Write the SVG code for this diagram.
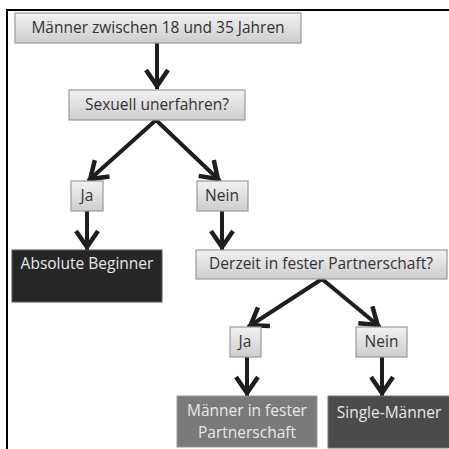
<svg xmlns="http://www.w3.org/2000/svg" width="449" height="449" viewBox="0 0 449 449">
<defs>
<linearGradient id="g" x1="0" y1="0" x2="0" y2="1">
<stop offset="0" stop-color="#f2f2f2"/>
<stop offset="1" stop-color="#cdcdcd"/>
</linearGradient>
<marker id="ah" viewBox="-20 -13 26 26" refX="3" refY="0" markerWidth="26" markerHeight="26" markerUnits="userSpaceOnUse" orient="auto">
<path d="M -16,-11 L 0,0 L -16,11" fill="none" stroke="#1e1e1e" stroke-width="4.5" stroke-linejoin="miter"/>
</marker>
</defs>
<style>
.q{fill:url(#g);stroke:#9a9a9a;stroke-width:1.2}
.t{font-family:"Open Sans",Lato,"Liberation Sans",sans-serif;font-size:15.5px;fill:#333;text-anchor:middle}
.w{font-family:"Open Sans",Lato,"Liberation Sans",sans-serif;font-size:15.5px;fill:#e8e8e8;text-anchor:middle}
.c{stroke:#1e1e1e;stroke-width:4;fill:none;marker-end:url(#ah)}
</style>
<rect width="449" height="449" fill="#fff"/>
<path d="M7,449 V10 H449" fill="none" stroke="#000" stroke-width="2"/>
<g id="connectors">
<line class="c" x1="157" y1="43" x2="157" y2="89"/>
<line class="c" x1="156" y1="120" x2="88" y2="181"/>
<line class="c" x1="156" y1="120" x2="220" y2="181"/>
<line class="c" x1="87" y1="211" x2="87" y2="250"/>
<line class="c" x1="222" y1="211" x2="222" y2="250"/>
<line class="c" x1="322" y1="279" x2="248" y2="327"/>
<line class="c" x1="322" y1="279" x2="380" y2="327"/>
<line class="c" x1="247" y1="357" x2="247" y2="396"/>
<line class="c" x1="382" y1="357" x2="382" y2="396"/>
</g>
<g id="n1"><rect class="q" x="15" y="13" width="286" height="30"/><text class="t" x="158" y="33">Männer zwischen 18 und 35 Jahren</text></g>
<g id="n2"><rect class="q" x="69" y="90" width="176" height="30"/><text class="t" x="157" y="110">Sexuell unerfahren?</text></g>
<g id="n3"><rect class="q" x="71" y="181" width="32" height="30"/><text class="t" x="87" y="201">Ja</text></g>
<g id="n4"><rect class="q" x="197" y="181" width="51" height="30"/><text class="t" x="222" y="201">Nein</text></g>
<g id="n5"><rect x="12" y="250" width="150" height="52" fill="#262626" stroke="#555" stroke-width="1"/><text class="w" x="87" y="269">Absolute Beginner</text></g>
<g id="n6"><rect class="q" x="196" y="250" width="251" height="29"/><text class="t" x="321" y="269">Derzeit in fester Partnerschaft?</text></g>
<g id="n7"><rect class="q" x="230" y="327" width="31" height="30"/><text class="t" x="245" y="347">Ja</text></g>
<g id="n8"><rect class="q" x="356" y="327" width="51" height="30"/><text class="t" x="381.5" y="347">Nein</text></g>
<g id="n9"><rect x="177" y="396" width="140" height="51" fill="#7a7a7a" stroke="#999" stroke-width="1"/><text class="w" x="247" y="416">Männer in fester</text><text class="w" x="247" y="438">Partnerschaft</text></g>
<g id="n10"><rect x="328" y="396" width="122" height="52" fill="#4b4b4b" stroke="#777" stroke-width="1"/><text class="w" x="389" y="418">Single-Männer</text></g>
</svg>
